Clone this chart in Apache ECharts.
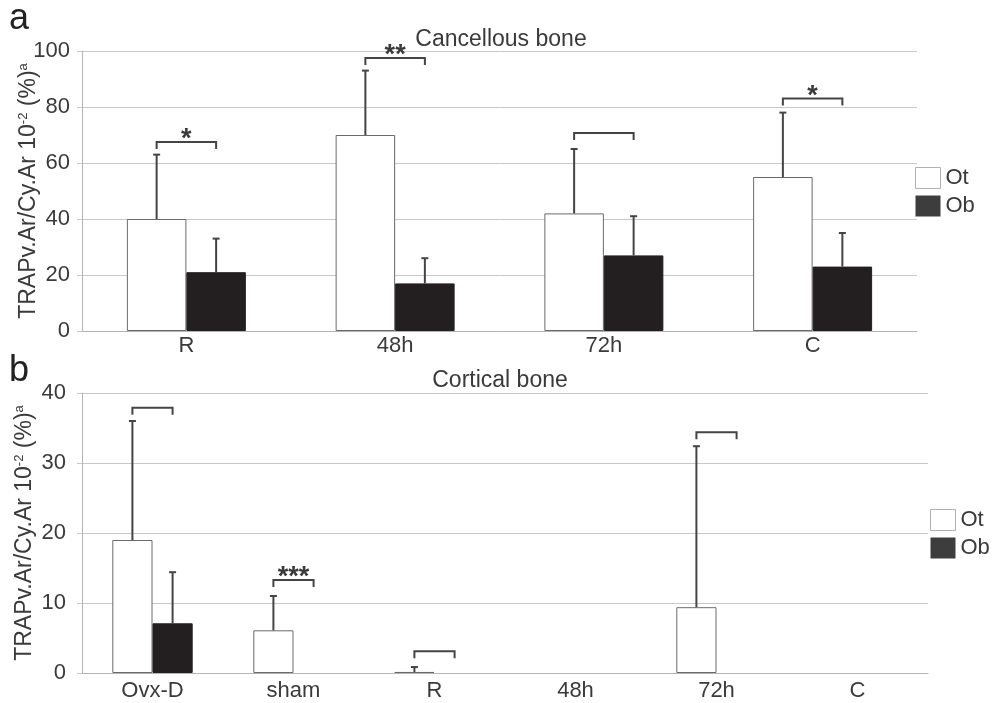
<!DOCTYPE html>
<html>
<head>
<meta charset="utf-8">
<script src="https://cdn.jsdelivr.net/npm/echarts@6/dist/echarts.min.js"></script>
<style>
html,body{margin:0;padding:0;background:#fff}
#chart{width:995px;height:703px}
</style>
</head>
<body>
<div id="chart"></div>
<script>
// Panel a – cancellous bone (mean, upper SD, comparison brackets)
const cancCategories = ['R', '48h', '72h', 'C'];
const cancOt = [40, 70, 42, 55];
const cancOtSd = [23, 23, 23, 23];
const cancOb = [21, 17, 27, 23];
const cancObSd = [12, 9, 14, 12];
const cancBracket = [67.5, 97.5, 70.7, 83];
const cancStars = ['*', '**', '', '*'];
const cancTicks = [0, 20, 40, 60, 80, 100];

// Panel b – cortical bone
const cortCategories = ['Ovx-D', 'sham', 'R', '48h', '72h', 'C'];
const cortOt = [19, 6.1, 0.15, null, 9.4, null];
const cortOtSd = [17, 4.9, 0.7, null, 23, null];
const cortOb = [7.1, null, null, null, null, null];
const cortObSd = [7.3, null, null, null, null, null];
const cortBracket = [37.9, 13.3, 3.1, null, 34.4, null];
const cortStars = ['', '***', '', '', '', ''];
const cortTicks = [0, 10, 20, 30, 40];

const FONT = '"Liberation Sans", Arial, sans-serif';
const TEXT = '#3a3a3a';
const GRIDLINE = '#c8c8c8';
const AXIS = '#b4b4b4';
const INK = '#444';
const CAT_GAP = 0.43;

// Error bars, significance brackets and stars drawn on top of the bar pairs
function makeAnnotations(gridIdx, cats, ot, otSd, ob, obSd, brk, stars) {
  return {
    type: 'custom',
    xAxisIndex: gridIdx,
    yAxisIndex: gridIdx,
    silent: true,
    clip: false,
    z: 5,
    data: cats.map((c, i) => [i, 0]),
    renderItem: function (params, api) {
      const i = params.dataIndex;
      const band = api.size([1, 0])[0];
      const barW = band * (1 - CAT_GAP) / 2;
      const cx = api.coord([i, 0])[0];
      const otX = cx - barW / 2;
      const obX = cx + barW / 2;
      const children = [];
      const errBar = function (x, mean, sd) {
        if (mean == null || sd == null) return;
        const yb = api.coord([i, mean])[1];
        const yt = api.coord([i, mean + sd])[1];
        children.push({ type: 'line', shape: { x1: x, y1: yb, x2: x, y2: yt },
          style: { stroke: INK, lineWidth: 2 } });
        children.push({ type: 'line', shape: { x1: x - 3.5, y1: yt, x2: x + 3.5, y2: yt },
          style: { stroke: INK, lineWidth: 2 } });
      };
      errBar(otX, ot[i], otSd[i]);
      errBar(obX, ob[i], obSd[i]);
      if (brk[i] != null) {
        const y = api.coord([i, brk[i]])[1];
        children.push({ type: 'polyline',
          shape: { points: [[otX, y + 7], [otX, y], [obX, y], [obX, y + 7]] },
          style: { stroke: INK, lineWidth: 2, fill: null } });
        if (stars[i]) {
          children.push({ type: 'text',
            style: { x: (otX + obX) / 2, y: y - 2, text: stars[i],
              align: 'center', verticalAlign: 'middle',
              fontSize: 27, fontWeight: 'bold', fontFamily: FONT, fill: '#3a3a3a' } });
        }
      }
      return { type: 'group', children: children };
    }
  };
}

const yName = '{n|TRAPv.Ar/Cy.Ar 10}{s|-2}{n| (%)}{s|a}';
const yNameStyle = {
  rich: {
    n: { fontSize: 23, fontFamily: FONT, color: TEXT },
    s: { fontSize: 13, fontFamily: FONT, color: TEXT, verticalAlign: 'top' }
  }
};

function catAxis(gridIdx, cats, margin) {
  return {
    gridIndex: gridIdx, type: 'category', data: cats,
    axisLine: { lineStyle: { color: AXIS, width: 1 } },
    axisTick: { length: 10, lineStyle: { color: AXIS } },
    axisLabel: { fontSize: 22, color: TEXT, fontFamily: FONT, margin: margin }
  };
}

function valAxis(gridIdx, ticks, labelMargin, nameGap) {
  return {
    gridIndex: gridIdx, type: 'value',
    min: ticks[0], max: ticks[ticks.length - 1], interval: ticks[1] - ticks[0],
    axisLine: { show: true, lineStyle: { color: AXIS } },
    axisTick: { show: true, length: 5, lineStyle: { color: GRIDLINE } },
    splitLine: { lineStyle: { color: GRIDLINE, width: 1 } },
    axisLabel: { fontSize: 22, color: TEXT, fontFamily: FONT, margin: labelMargin },
    name: yName, nameLocation: 'middle', nameRotate: 90, nameGap: nameGap,
    nameMoveOverlap: false,
    nameTextStyle: yNameStyle
  };
}

function legendAt(left, top) {
  return {
    left: left, top: top, orient: 'vertical', icon: 'rect', padding: 0,
    itemWidth: 25, itemHeight: 21, itemGap: 6, selectedMode: false,
    textStyle: { fontSize: 22, color: TEXT, fontFamily: FONT },
    data: [
      { name: 'Ot', itemStyle: { color: '#ffffff', borderColor: '#b0b0b0', borderWidth: 1 } },
      { name: 'Ob', itemStyle: { color: '#3d3d3d', borderColor: '#3d3d3d', borderWidth: 0 } }
    ]
  };
}

const otStyle = { color: '#ffffff', borderColor: '#6a6a6a', borderWidth: 1 };
const obStyle = { color: '#231f20', borderColor: '#231f20', borderWidth: 1 };

const option = {
  animation: false,
  backgroundColor: '#ffffff',
  textStyle: { fontFamily: FONT },
  grid: [
    { left: 82, top: 51, width: 835, height: 280, outerBoundsMode: 'none', containLabel: false },
    { left: 82, top: 393, width: 846, height: 280, outerBoundsMode: 'none', containLabel: false }
  ],
  xAxis: [catAxis(0, cancCategories, 4), catAxis(1, cortCategories, 7)],
  yAxis: [valAxis(0, cancTicks, 12, 42), valAxis(1, cortTicks, 16, 46)],
  legend: [legendAt(915, 167), legendAt(930, 509)],
  graphic: [
    { type: 'text', x: 19, y: 19, style: { text: 'a', fontSize: 36, fontFamily: FONT, fill: '#222', align: 'center', verticalAlign: 'middle' } },
    { type: 'text', x: 19, y: 371, style: { text: 'b', fontSize: 36, fontFamily: FONT, fill: '#222', align: 'center', verticalAlign: 'middle' } },
    { type: 'text', x: 501, y: 40, style: { text: 'Cancellous bone', fontSize: 23, fontFamily: FONT, fill: TEXT, align: 'center', verticalAlign: 'middle' } },
    { type: 'text', x: 500, y: 381, style: { text: 'Cortical bone', fontSize: 23, fontFamily: FONT, fill: TEXT, align: 'center', verticalAlign: 'middle' } }
  ],
  series: [
    { name: 'Ot', type: 'bar', xAxisIndex: 0, yAxisIndex: 0, data: cancOt,
      barGap: '0%', barCategoryGap: '43%', itemStyle: otStyle },
    { name: 'Ob', type: 'bar', xAxisIndex: 0, yAxisIndex: 0, data: cancOb,
      barGap: '0%', barCategoryGap: '43%', itemStyle: obStyle },
    { name: 'Ot', type: 'bar', xAxisIndex: 1, yAxisIndex: 1, data: cortOt,
      barGap: '0%', barCategoryGap: '43%', itemStyle: otStyle },
    { name: 'Ob', type: 'bar', xAxisIndex: 1, yAxisIndex: 1, data: cortOb,
      barGap: '0%', barCategoryGap: '43%', itemStyle: obStyle },
    makeAnnotations(0, cancCategories, cancOt, cancOtSd, cancOb, cancObSd, cancBracket, cancStars),
    makeAnnotations(1, cortCategories, cortOt, cortOtSd, cortOb, cortObSd, cortBracket, cortStars)
  ]
};

const chart = echarts.init(document.getElementById('chart'), null, { renderer: 'canvas' });
chart.setOption(option);
</script>
</body>
</html>
